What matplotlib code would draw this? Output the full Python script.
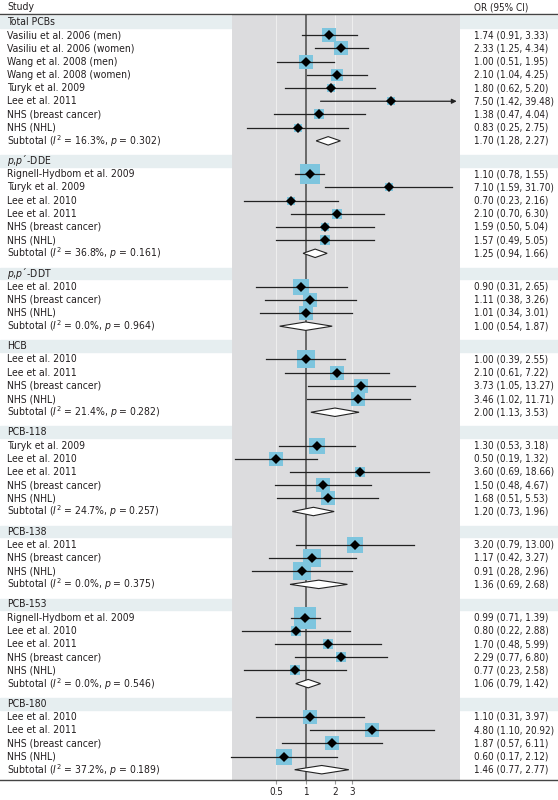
import matplotlib
matplotlib.use("Agg")
import matplotlib.pyplot as plt
import matplotlib.transforms as mtransforms
from matplotlib import font_manager as fm
from matplotlib.patches import Rectangle, Polygon
from matplotlib.lines import Line2D
from matplotlib.ticker import NullLocator

# data
groups = ["Total PCBs", "$p$,$p$\u00b4-DDE", "$p$,$p$\u00b4-DDT", "HCB",
          "PCB-118", "PCB-138", "PCB-153", "PCB-180"]

studies = [
    ["Vasiliu et al. 2006 (men)", "Vasiliu et al. 2006 (women)", "Wang et al. 2008 (men)",
     "Wang et al. 2008 (women)", "Turyk et al. 2009", "Lee et al. 2011",
     "NHS (breast cancer)", "NHS (NHL)"],
    ["Rignell-Hydbom et al. 2009", "Turyk et al. 2009", "Lee et al. 2010", "Lee et al. 2011",
     "NHS (breast cancer)", "NHS (NHL)"],
    ["Lee et al. 2010", "NHS (breast cancer)", "NHS (NHL)"],
    ["Lee et al. 2010", "Lee et al. 2011", "NHS (breast cancer)", "NHS (NHL)"],
    ["Turyk et al. 2009", "Lee et al. 2010", "Lee et al. 2011", "NHS (breast cancer)", "NHS (NHL)"],
    ["Lee et al. 2011", "NHS (breast cancer)", "NHS (NHL)"],
    ["Rignell-Hydbom et al. 2009", "Lee et al. 2010", "Lee et al. 2011",
     "NHS (breast cancer)", "NHS (NHL)"],
    ["Lee et al. 2010", "Lee et al. 2011", "NHS (breast cancer)", "NHS (NHL)"],
]

odds = [
    [1.74, 2.33, 1.00, 2.10, 1.80, 7.50, 1.38, 0.83],
    [1.10, 7.10, 0.70, 2.10, 1.59, 1.57],
    [0.90, 1.11, 1.01],
    [1.00, 2.10, 3.73, 3.46],
    [1.30, 0.50, 3.60, 1.50, 1.68],
    [3.20, 1.17, 0.91],
    [0.99, 0.80, 1.70, 2.29, 0.77],
    [1.10, 4.80, 1.87, 0.60],
]
lower = [
    [0.91, 1.25, 0.51, 1.04, 0.62, 1.42, 0.47, 0.25],
    [0.78, 1.59, 0.23, 0.70, 0.50, 0.49],
    [0.31, 0.38, 0.34],
    [0.39, 0.61, 1.05, 1.02],
    [0.53, 0.19, 0.69, 0.48, 0.51],
    [0.79, 0.42, 0.28],
    [0.71, 0.22, 0.48, 0.77, 0.23],
    [0.31, 1.10, 0.57, 0.17],
]
upper = [
    [3.33, 4.34, 1.95, 4.25, 5.20, 39.48, 4.04, 2.75],
    [1.55, 31.70, 2.16, 6.30, 5.04, 5.05],
    [2.65, 3.26, 3.01],
    [2.55, 7.22, 13.27, 11.71],
    [3.18, 1.32, 18.66, 4.67, 5.53],
    [13.00, 3.27, 2.96],
    [1.39, 2.88, 5.99, 6.80, 2.58],
    [3.97, 20.92, 6.11, 2.12],
]
# relative study weights (box area)
weights = [
    [17, 22, 20, 14, 8, 6, 10, 8],
    [44, 6, 6, 10, 8, 10],
    [26, 22, 22],
    [29, 22, 22, 20],
    [26, 22, 12, 20, 17],
    [26, 32, 29],
    [48, 12, 10, 10, 12],
    [22, 22, 22, 26],
]

sub_i2 = [16.3, 36.8, 0.0, 21.4, 24.7, 0.0, 0.0, 37.2]
sub_p = [0.302, 0.161, 0.964, 0.282, 0.257, 0.375, 0.546, 0.189]
sub_or = [1.70, 1.25, 1.00, 2.00, 1.20, 1.36, 1.06, 1.46]
sub_lo = [1.28, 0.94, 0.54, 1.13, 0.73, 0.69, 0.79, 0.77]
sub_hi = [2.27, 1.66, 1.87, 3.53, 1.96, 2.68, 1.42, 2.77]

ticks = [0.5, 1, 2, 3]
tick_labels = ["0.5", "1", "2", "3"]

# look for a narrow / condensed sans face, else fall back to Liberation Sans
prefer = ["Liberation Sans Narrow", "DejaVu Sans", "Roboto Condensed", "Roboto",
          "Noto Sans", "Open Sans", "Noto Sans Condensed", "DejaVu Sans Condensed"]
narrow = [f for f in fm.fontManager.ttflist
          if f.style == 'normal' and f.weight in (400, 'normal', 'regular')
          and ('Narrow' in f.name or 'Condensed' in f.name
               or f.stretch in ('condensed', 'semi-condensed'))]
narrow.sort(key=lambda f: prefer.index(f.name) if f.name in prefer else 99)
if narrow:
    fam, stretch, fs, fs_r = narrow[0].name, narrow[0].stretch, 7.5, 7.1
else:
    fam, stretch, fs, fs_r = 'Liberation Sans', 'normal', 7.5, 6.6

plt.rcParams['font.family'] = [fam, 'DejaVu Sans']
plt.rcParams['font.stretch'] = stretch
plt.rcParams['mathtext.fontset'] = 'custom'
plt.rcParams['mathtext.rm'] = f"{fam}:stretch={stretch}"
plt.rcParams['mathtext.it'] = f"{fam}:style=italic:stretch={stretch}"

# styling
text_col = '#231f20'
band_col = '#e6eef0'
panel_col = '#dcdcde'
box_col = '#7ec5de'

W, H = 558, 800
row_px = 13.2
gap = 0.52

fig = plt.figure(figsize=(W / 100, H / 100), dpi=100)
ax = fig.add_axes([232 / W, 20 / H, 228 / W, 766 / H])
ax.set_xscale('log')
ax.set_xlim(0.175, 38.4)
ytop = -0.61
ybot = ytop + 766 / row_px
ax.set_ylim(ybot, ytop)
ax.set_facecolor('none')
for s in ax.spines.values():
    s.set_visible(False)
ax.set_yticks([])
ax.set_xticks(ticks)
ax.set_xticklabels(tick_labels)
ax.xaxis.set_minor_locator(NullLocator())
ax.tick_params(axis='x', length=3, color='#999999', labelsize=fs_r, pad=2,
               labelcolor=text_col)

trans = mtransforms.blended_transform_factory(fig.transFigure, ax.transData)

ax.add_patch(Rectangle((0, 0), 1, 1, transform=ax.transAxes, color=panel_col, zorder=0.5))
for t in [0.5, 2, 3]:
    ax.axvline(t, color='#eeeeee', lw=0.8, zorder=0.6)
ax.axvline(1, color='#555555', lw=1.2, zorder=0.7)

x_left = 7 / W
x_right = 474 / W
arrow_max = 35.5

y = 0
for g in range(len(groups)):
    ax.add_patch(Rectangle((0, y - 0.44), 1, 0.88, transform=trans, color=band_col,
                           zorder=0.2, clip_on=False))
    ax.text(x_left, y, groups[g], transform=trans, fontsize=fs, va='center', ha='left',
            color=text_col)
    y += 1
    for i in range(len(studies[g])):
        o, lo, hi, w = odds[g][i], lower[g][i], upper[g][i], weights[g][i]
        ax.text(x_left, y, studies[g][i], transform=trans, fontsize=fs, va='center',
                ha='left', color=text_col)
        ax.text(x_right, y, f"{o:.2f} ({lo:.2f}, {hi:.2f})", transform=trans, fontsize=fs_r,
                va='center', ha='left', color=text_col)
        side = (w * 10) ** 0.5 * 0.72
        ax.plot(o, y, marker='s', ms=side, color=box_col, mew=0, zorder=2)
        if hi > arrow_max:
            ax.annotate('', xy=(arrow_max, y), xytext=(lo, y),
                        arrowprops=dict(arrowstyle='-|>', color='#222222', lw=0.9,
                                        mutation_scale=7, shrinkA=0, shrinkB=0), zorder=3)
        else:
            ax.plot([lo, hi], [y, y], color='#222222', lw=0.9, zorder=3, clip_on=False)
        ax.plot(o, y, marker='D', ms=5.0, color='black', mew=0, zorder=4)
        y += 1
    ax.text(x_left, y, f"Subtotal ($I^2$ = {sub_i2[g]:.1f}%, $p$ = {sub_p[g]:.3f})",
            transform=trans, fontsize=fs, va='center', ha='left', color=text_col)
    ax.text(x_right, y, f"{sub_or[g]:.2f} ({sub_lo[g]:.2f}, {sub_hi[g]:.2f})",
            transform=trans, fontsize=fs_r, va='center', ha='left', color=text_col)
    ax.add_patch(Polygon([(sub_lo[g], y), (sub_or[g], y - 0.32), (sub_hi[g], y),
                          (sub_or[g], y + 0.32)], closed=True, facecolor='white',
                         edgecolor='#222222', lw=0.8, zorder=3))
    y += 1 + gap

fig.add_artist(Line2D([0, 1], [1 - 14 / H, 1 - 14 / H], color='#444444', lw=1.0))
fig.add_artist(Line2D([0, 1], [20 / H, 20 / H], color='#444444', lw=1.0))
fig.text(x_left, 1 - 7 / H, "Study", fontsize=fs, va='center', ha='left', color=text_col)
fig.text(x_right, 1 - 7 / H, "OR (95% CI)", fontsize=fs_r, va='center', ha='left',
         color=text_col)

fig.savefig("out.png", dpi=100)
